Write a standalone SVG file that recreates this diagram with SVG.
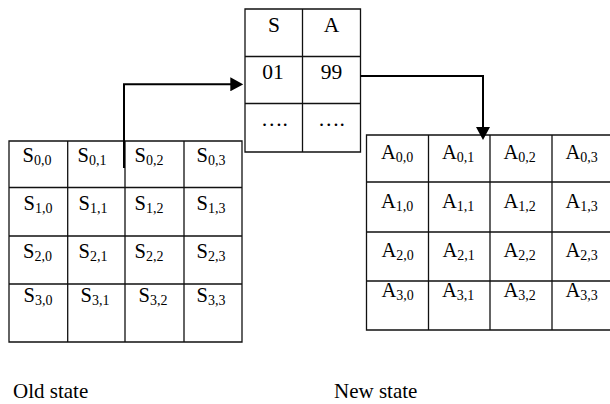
<svg xmlns="http://www.w3.org/2000/svg" width="610" height="404" viewBox="0 0 610 404">
  <style>
    .grid { fill: none; stroke: #111; stroke-width: 1.3; }
    .cell { font-family: "Liberation Serif", "Times New Roman", serif; font-size: 20.5px; fill: #000; }
    .sub { font-size: 14px; }
    .hdr { font-family: "Liberation Serif", "Times New Roman", serif; font-size: 21.5px; fill: #000; text-anchor: middle; }
    .label { font-family: "Liberation Serif", "Times New Roman", serif; font-size: 21px; fill: #000; }
    .conn { fill: none; stroke: #000; stroke-width: 2; }
  </style>
  <defs>
    <marker id="arrow" viewBox="0 0 13 14" refX="10" refY="7" markerWidth="13" markerHeight="14" markerUnits="userSpaceOnUse" orient="auto">
      <path d="M0,0 L13,7 L0,14 z" fill="#000"/>
    </marker>
  </defs>

  <rect width="610" height="404" fill="#fff"/>

  <!-- old state matrix -->
  <g id="old-state">
    <path class="grid" d="M9,141 H242 V342 H9 Z M67.7,141 V342 M125,141 V342 M184,141 V342 M9,187.5 H242 M9,236 H242 M9,284 H242"/>
    <text class="cell" x="22.5" y="162">S<tspan class="sub" dy="3">0,0</tspan></text>
    <text class="cell" x="77.5" y="162">S<tspan class="sub" dy="3">0,1</tspan></text>
    <text class="cell" x="134.5" y="162">S<tspan class="sub" dy="3">0,2</tspan></text>
    <text class="cell" x="196.5" y="162">S<tspan class="sub" dy="3">0,3</tspan></text>
    <text class="cell" x="23.5" y="209.5">S<tspan class="sub" dy="3">1,0</tspan></text>
    <text class="cell" x="78.5" y="209.5">S<tspan class="sub" dy="3">1,1</tspan></text>
    <text class="cell" x="134.5" y="209.5">S<tspan class="sub" dy="3">1,2</tspan></text>
    <text class="cell" x="196.5" y="209.5">S<tspan class="sub" dy="3">1,3</tspan></text>
    <text class="cell" x="23" y="258">S<tspan class="sub" dy="3">2,0</tspan></text>
    <text class="cell" x="78.5" y="258">S<tspan class="sub" dy="3">2,1</tspan></text>
    <text class="cell" x="134.5" y="258">S<tspan class="sub" dy="3">2,2</tspan></text>
    <text class="cell" x="196.5" y="258">S<tspan class="sub" dy="3">2,3</tspan></text>
    <text class="cell" x="23.5" y="302">S<tspan class="sub" dy="3">3,0</tspan></text>
    <text class="cell" x="80.5" y="302">S<tspan class="sub" dy="3">3,1</tspan></text>
    <text class="cell" x="138.5" y="302">S<tspan class="sub" dy="3">3,2</tspan></text>
    <text class="cell" x="196.5" y="302">S<tspan class="sub" dy="3">3,3</tspan></text>
  </g>

  <!-- lookup table -->
  <g id="lookup-table">
    <path class="grid" d="M245,9 H360.5 V152 H245 Z M302.5,9 V152 M245,56.5 H360.5 M245,103.5 H360.5"/>
    <text class="hdr" x="274" y="32">S</text>
    <text class="hdr" x="331.5" y="32">A</text>
    <text class="hdr" x="273" y="78.5">01</text>
    <text class="hdr" x="331.5" y="78.5">99</text>
    <text class="hdr" x="274.5" y="126">….</text>
    <text class="hdr" x="331.5" y="126">….</text>
  </g>

  <!-- new state matrix -->
  <g id="new-state">
    <path class="grid" d="M366.5,135 H614 V330 H366.5 Z M428.5,135 V330 M490,135 V330 M552,135 V330 M366.5,182 H614 M366.5,232 H614 M366.5,281 H614"/>
    <text class="cell" x="381" y="158.5">A<tspan class="sub" dy="3">0,0</tspan></text>
    <text class="cell" x="442" y="158.5">A<tspan class="sub" dy="3">0,1</tspan></text>
    <text class="cell" x="503.5" y="158.5">A<tspan class="sub" dy="3">0,2</tspan></text>
    <text class="cell" x="565.5" y="158.5">A<tspan class="sub" dy="3">0,3</tspan></text>
    <text class="cell" x="381" y="207.5">A<tspan class="sub" dy="3">1,0</tspan></text>
    <text class="cell" x="442" y="207.5">A<tspan class="sub" dy="3">1,1</tspan></text>
    <text class="cell" x="503.5" y="207.5">A<tspan class="sub" dy="3">1,2</tspan></text>
    <text class="cell" x="565.5" y="207.5">A<tspan class="sub" dy="3">1,3</tspan></text>
    <text class="cell" x="381.5" y="256.5">A<tspan class="sub" dy="3">2,0</tspan></text>
    <text class="cell" x="442.5" y="256.5">A<tspan class="sub" dy="3">2,1</tspan></text>
    <text class="cell" x="503.5" y="256.5">A<tspan class="sub" dy="3">2,2</tspan></text>
    <text class="cell" x="565.5" y="256.5">A<tspan class="sub" dy="3">2,3</tspan></text>
    <text class="cell" x="381.5" y="297">A<tspan class="sub" dy="3">3,0</tspan></text>
    <text class="cell" x="442" y="297">A<tspan class="sub" dy="3">3,1</tspan></text>
    <text class="cell" x="503.5" y="297">A<tspan class="sub" dy="3">3,2</tspan></text>
    <text class="cell" x="565.5" y="297">A<tspan class="sub" dy="3">3,3</tspan></text>
  </g>

  <!-- connectors -->
  <g id="connectors">
    <path class="conn" d="M124,168 V84.3 H240.3" marker-end="url(#arrow)"/>
    <path class="conn" d="M360.5,76 H483 V137" marker-end="url(#arrow)"/>
  </g>

  <!-- captions -->
  <g id="captions">
    <text class="label" x="13" y="398">Old state</text>
    <text class="label" x="334" y="398">New state</text>
  </g>
</svg>
